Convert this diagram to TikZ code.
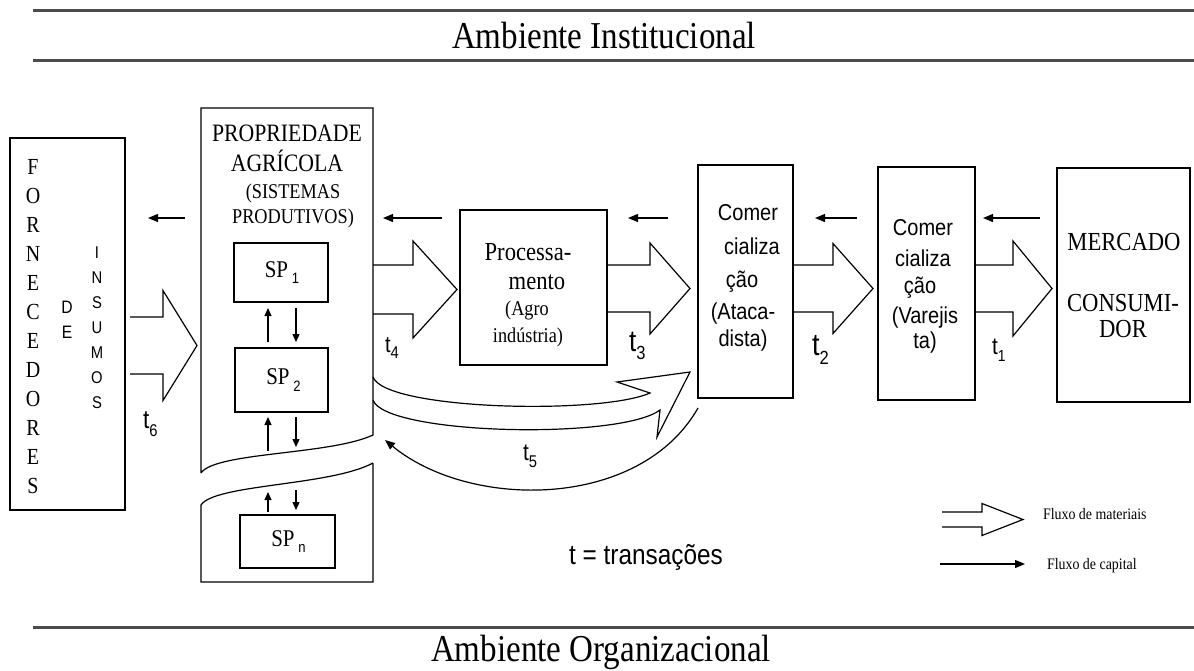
\documentclass[tikz,border=0pt]{standalone}
\usepackage{fontspec}
\setmainfont{Liberation Serif}[FakeStretch=0.87]
\setsansfont{Liberation Sans}[FakeStretch=0.87]
\usetikzlibrary{calc,fit,arrows.meta}

\newcommand\fsz[2]{\fontsize{#1}{#2}\selectfont}
% transaction label: t with a lowered index
\newcommand\tlabel[3]{\fsz{#1}{#1}t\raisebox{-0.55ex}{\fsz{#2}{#2}#3}}
% production system label
\newcommand\spname[1]{SP\,\raisebox{-0.6ex}{\sffamily\fsz{7.5}{7.5}#1}}
% hollow material-flow arrow: tail, tip, shaft half-height, head half-height, head length
\newcommand\matarrow[5]{%
  \draw[matline] ($(#1)+(0,-#3)$) -- ($(#2)+(-#5,-#3)$) -- ($(#2)+(-#5,-#4)$)
    -- (#2) -- ($(#2)+(-#5,#4)$) -- ($(#2)+(-#5,#3)$) -- ($(#1)+(0,#3)$);}

\begin{document}
\begin{tikzpicture}[x=0.5pt,y=-0.5pt,
  every node/.style={inner sep=0pt, outer sep=0pt},
  box/.style={draw, line width=0.6pt},
  rule/.style={draw=black!70, line width=1.5pt},
  matline/.style={draw, line width=0.6pt, line join=miter},
  capline/.style={line width=0.6pt, -{Triangle[length=5pt,width=4pt]}},
  spline/.style={line width=0.6pt, -{Triangle[length=4pt,width=3.5pt]}},
  sanstext/.style={font=\sffamily\fsz{11.5}{13}},
  serifbig/.style={font=\fsz{13}{15}},
  sptext/.style={font=\fsz{12}{13}},
  title/.style={font=\fsz{19}{22}},
  legendtext/.style={font=\fsz{8}{9}, anchor=west}
]
\useasboundingbox (0,0) rectangle (1194,670);

% environment bands
\draw[rule] (33,10) -- (1194,10);
\draw[rule] (33,60) -- (1194,60);
\draw[rule] (33,627) -- (1194,627);
\node[title] (inst) at (604,35) {Ambiente Institucional};
\node[title] (org) at (601,652) {Ambiente Organizacional};

% suppliers
\node[box, fit={(10,138) (125,510)}] (forn) {};
\node[font=\fsz{11.5}{14.5}, align=center] (fornt) at (33,327)
  {F\\O\\R\\N\\E\\C\\E\\D\\O\\R\\E\\S};
\node[font=\sffamily\fsz{9}{12.5}, align=center] (de) at (67,320) {D\\E};
\node[font=\sffamily\fsz{8.5}{12.5}, align=center] (ins) at (97,328)
  {I\\N\\S\\U\\M\\O\\S};

% farm (upper and lower parts, wavy break)
\node[fit={(201,108) (373,440)}] (prop) {};
\node[fit={(201,463) (373,582)}] (propn) {};
\draw[line width=0.6pt] (201,473) -- (prop.north west) -- (prop.north east) -- (373,435)
  .. controls (330,455) and (215,452) .. (201,473);
\draw[line width=0.6pt] (propn.north east) -- (propn.south east) -- (propn.south west)
  -- (201,505) .. controls (215,484) and (330,486) .. (propn.north east);
\node[font=\fsz{12.5}{15}, align=center] (propt) at (287,148) {PROPRIEDADE\\AGRÍCOLA};
\node[font=\fsz{10.5}{12.5}, align=center] (propst) at (293,206) {(SISTEMAS\\PRODUTIVOS)};

\node[box, fit={(234,243) (328,302)}] (sp1) {};
\node[box, fit={(235,348) (328,412)}] (sp2) {};
\node[box, fit={(240,515) (335,568)}] (spn) {};
\node[sptext] (sp1t) at ($(sp1.center)+(1,0)$) {\spname{1}};
\node[sptext] (sp2t) at ($(sp2.center)+(2,0)$) {\spname{2}};
\node[sptext] (spnt) at ($(spn.center)+(1,0)$) {\spname{n}};

\coordinate (w1u) at (268,451);
\coordinate (w1d) at (296,449);
\coordinate (w2u) at (268,512);
\coordinate (w2d) at (296,490);
\draw[spline, shorten <=3pt, shorten >=3pt] (sp2.north -| w1u) -- (sp1.south -| w1u);
\draw[spline, shorten <=3pt, shorten >=3pt] (sp1.south -| w1d) -- (sp2.north -| w1d);
\draw[spline, shorten >=2.5pt] (w1u) -- (sp2.south -| w1u);
\draw[spline, shorten <=2.5pt, shorten >=1pt] (sp2.south -| w1d) -- (w1d);
\draw[spline] (w2u) -- (268,492);
\draw[spline, shorten >=2.5pt] (w2d) -- (spn.north -| w2d);

% processing and trade stages
\node[box, fit={(460,210) (607,365)}] (proc) {};
\node[serifbig] at (528,252) {Processa-};
\node[serifbig] at (537,282) {mento};
\node[font=\fsz{10.5}{12}] at (527,310) {(Agro};
\node[font=\fsz{10.5}{12}] at (528,337) {indústria)};

\node[box, fit={(698,165) (793,398)}] (atac) {};
\node[sanstext] at (748,213) {Comer};
\node[sanstext] at (752,246) {cializa};
\node[sanstext] at (742,282) {ção};
\node[sanstext] at (743,314) {(Ataca-};
\node[sanstext] at (743,341) {dista)};

\node[box, fit={(878,167) (975,400)}] (varej) {};
\node[sanstext] at (923,228) {Comer};
\node[sanstext] at (923,258) {cializa};
\node[sanstext] at (920,288) {ção};
\node[sanstext] at (925,318) {(Varejis};
\node[sanstext] at (925,343) {ta)};

\node[box, fit={(1057,168) (1190,402)}] (merc) {};
\node[serifbig] at (1124,242) {MERCADO};
\node[serifbig] at (1123,303) {CONSUMI-};
\node[serifbig] at (1123,329) {DOR};

% capital flows (right to left)
\draw[capline] ($(prop.west |- 0,218)+(-16,0)$) -- ($(forn.east |- 0,218)+(23,0)$);
\draw[capline] ($(proc.west |- 0,218)+(-18,0)$) -- ($(prop.east |- 0,218)+(10,0)$);
\draw[capline] ($(atac.west |- 0,218)+(-30,0)$) -- ($(proc.east |- 0,218)+(21,0)$);
\draw[capline] ($(varej.west |- 0,218)+(-21,0)$) -- ($(atac.east |- 0,218)+(22,0)$);
\draw[capline] ($(merc.west |- 0,218)+(-17,0)$) -- ($(varej.east |- 0,218)+(8,0)$);

% material flows (left to right)
\coordinate (t6a) at ($(forn.east |- 0,345.5)+(5,0)$);
\coordinate (t6b) at ($(prop.west |- 0,345.5)+(-4,0)$);
\matarrow{t6a}{t6b}{28.5}{55}{34}
\coordinate (t4a) at (prop.east |- 0,289.5);
\coordinate (t4b) at ($(proc.west |- 0,289.5)+(-3,0)$);
\matarrow{t4a}{t4b}{24.5}{48.5}{44}
\coordinate (t3a) at (proc.east |- 0,288.5);
\coordinate (t3b) at ($(atac.west |- 0,288.5)+(-8,0)$);
\matarrow{t3a}{t3b}{23.5}{45.5}{40}
\coordinate (t2a) at (atac.east |- 0,288.5);
\coordinate (t2b) at ($(varej.west |- 0,288.5)+(-5,0)$);
\matarrow{t2a}{t2b}{23.5}{45}{40}
\coordinate (t1a) at (varej.east |- 0,288.5);
\coordinate (t1b) at ($(merc.west |- 0,288.5)+(-5,0)$);
\matarrow{t1a}{t1b}{23.5}{47.5}{39}

% direct flow from farm to wholesale, and capital back
\draw[matline] (prop.east |- 0,377) .. controls (385,410) and (600,415) .. (650,393)
  -- (617,382) -- ($(atac.west |- 0,372)+(-8,0)$) -- (657,437) -- (660,410)
  .. controls (620,440) and (385,435) .. (prop.east |- 0,400);
\draw[capline] ($(atac.south west)+(0,10)$) .. controls (640,510) and (470,510)
  .. ($(prop.south east)+(12,0)$);

% transaction labels
\node[font=\sffamily, anchor=west] (t6) at (143,424) {\tlabel{13}{8.5}{6}};
\node[font=\sffamily, anchor=west] (t4) at (385,348) {\tlabel{11.5}{8.5}{4}};
\node[font=\sffamily, anchor=west] (t3) at (629,346) {\tlabel{15}{9.5}{3}};
\node[font=\sffamily, anchor=west] (t2) at (812,350) {\tlabel{15.5}{9.5}{2}};
\node[font=\sffamily, anchor=west] (t1) at (992,350) {\tlabel{12}{8}{1}};
\node[font=\sffamily, anchor=west] (t5) at (523,456) {\tlabel{12}{8.5}{5}};

\node[font=\sffamily\fsz{14}{16}] (tdef) at (646,557) {t = transações};

% legend
\coordinate (legA) at (942,519.5);
\coordinate (legB) at (1023,519.5);
\matarrow{legA}{legB}{7.5}{16}{41}
\node[legendtext] (legm) at (1043,514) {Fluxo de materiais};
\coordinate (legC) at (940,564);
\coordinate (legD) at (1025,564);
\draw[capline] (legC) -- (legD);
\node[legendtext] (legc) at (1047,566) {Fluxo de capital};
\end{tikzpicture}
\end{document}
